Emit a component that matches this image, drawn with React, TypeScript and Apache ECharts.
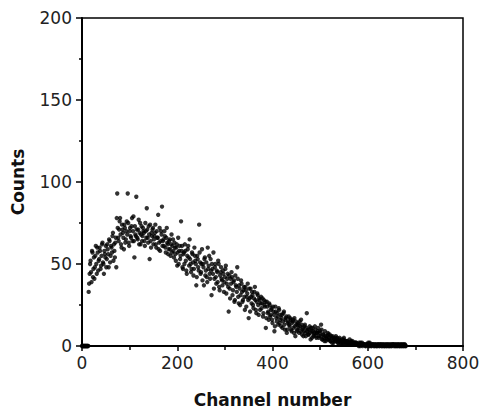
import React, { useEffect, useRef } from "react";
import * as echarts from "echarts";

// Channel numbers: even channels start at 0, odd channels at 1, step 2
const evenStart = 0;
const oddStart = 1;
const channelStep = 2;

// Counts per even channel, channels 0..680
const countsEven: number[] = [
  0, 0, 0, 0, 0, 0, 0,
  33, 44, 52, 39, 57, 47, 41, 55, 50, 60,
  46, 53, 58, 49, 62, 51, 44, 56, 61, 53,
  59, 48, 64, 55, 60, 67, 52, 58, 63, 48,
  93, 66, 71, 78, 62, 74, 69, 59, 72, 65,
  76, 93, 63, 70, 67, 73, 64, 79, 54, 68,
  91, 66, 71, 62, 75, 68, 64, 72, 69, 61,
  70, 84, 66, 73, 53, 64, 69, 71, 62, 67,
  74, 60, 66, 80, 63, 58, 70, 85, 64, 61,
  67, 57, 72, 62, 59, 65, 55, 68, 61, 58,
  63, 56, 60, 49, 66, 58, 53, 76, 61, 47,
  57, 62, 52, 44, 59, 54, 65, 50, 47, 56,
  43, 60, 52, 37, 55, 48, 74, 51, 45, 59,
  50, 37, 54, 46, 42, 60, 49, 44, 53, 31,
  47, 57, 41, 50, 38, 45, 52, 36, 43, 48,
  40, 46, 33, 42, 49, 38, 44, 21, 35, 41,
  45, 31, 39, 27, 43, 36, 48, 30, 37, 25,
  40, 33, 28, 36, 22, 34, 30, 38, 17, 29,
  35, 26, 31, 23, 33, 28, 20, 32, 25, 29,
  22, 30, 26, 18, 28, 24, 11, 27, 20, 16,
  25, 19, 23, 14, 21, 9, 24, 17, 20, 13,
  22, 16, 12, 19, 15, 21, 10, 17, 8, 14,
  18, 12, 16, 9, 15, 11, 17, 6, 13, 10,
  14, 8, 12, 16, 7, 11, 9, 13, 6, 20,
  10, 7, 12, 4, 9, 11, 6, 8, 10, 5,
  8, 11, 6, 9, 13, 4, 7, 5, 9, 3,
  6, 8, 4, 7, 3, 5, 6, 2, 4, 5,
  3, 5, 2, 4, 3, 1, 4, 2, 5, 3,
  2, 3, 1, 2, 4, 1, 2, 3, 1, 2,
  1, 2, 1, 1, 2, 0, 1, 2, 1, 1,
  1, 0, 1, 1, 0, 2, 1, 0, 1, 1,
  0, 1, 1, 0, 1, 0, 1, 1, 0, 1,
  1, 0, 1, 0, 1, 1, 0, 1, 0, 1,
  0, 1, 0, 1, 0, 1, 1, 0, 1, 0,
  1, 0, 1, 0,
];

// Counts per odd channel, channels 1..679
const countsOdd: number[] = [
  0, 0, 0, 0, 0, 0, 0,
  38, 50, 45, 58, 42, 54, 48, 61, 44, 57,
  52, 60, 47, 55, 63, 50, 58, 54, 48, 62,
  56, 65, 51, 61, 57, 69, 62, 54, 66, 78,
  72, 64, 76, 68, 60, 71, 66, 74, 63, 70,
  68, 75, 61, 72, 66, 78, 70, 64, 73, 67,
  71, 65, 77, 69, 62, 73, 67, 70, 64, 75,
  66, 71, 63, 68, 74, 60, 67, 72, 65, 69,
  62, 70, 66, 59, 72, 64, 68, 61, 65, 70,
  60, 66, 63, 56, 64, 59, 62, 57, 65, 54,
  60, 52, 62, 57, 50, 61, 55, 58, 48, 56,
  50, 58, 46, 55, 61, 49, 53, 45, 57, 51,
  47, 55, 50, 42, 53, 46, 57, 44, 50, 40,
  48, 53, 43, 51, 39, 47, 55, 41, 46, 50,
  44, 35, 48, 42, 46, 39, 50, 34, 45, 41,
  37, 44, 39, 47, 32, 41, 36, 43, 29, 38,
  42, 34, 40, 28, 37, 33, 41, 26, 35, 31,
  38, 27, 34, 30, 36, 24, 32, 28, 35, 21,
  30, 33, 25, 29, 36, 22, 27, 31, 19, 28,
  26, 23, 29, 20, 25, 27, 17, 24, 21, 26,
  18, 22, 16, 24, 19, 12, 21, 15, 18, 23,
  14, 19, 17, 11, 20, 13, 16, 18, 10, 15,
  13, 17, 10, 14, 16, 8, 12, 15, 9, 13,
  11, 15, 9, 13, 10, 6, 12, 8, 11, 9,
  7, 10, 8, 11, 5, 9, 7, 12, 6, 8,
  9, 5, 8, 6, 10, 4, 7, 3, 6, 5,
  4, 7, 5, 3, 6, 2, 5, 4, 3, 6,
  4, 2, 3, 5, 2, 3, 1, 4, 2, 3,
  1, 3, 2, 1, 2, 3, 1, 2, 1, 2,
  2, 1, 1, 0, 1, 2, 1, 0, 1, 1,
  0, 1, 1, 2, 0, 1, 0, 1, 1, 0,
  1, 0, 0, 1, 1, 0, 1, 0, 1, 0,
  0, 1, 0, 1, 0, 0, 1, 0, 1, 1,
  1, 0, 1, 0, 1, 0, 0, 1, 0, 1,
  0, 1, 0,
];

const xTitle = "Channel number";
const yTitle = "Counts";
const xRange = [0, 800];
const yRange = [0, 200];
const xInterval = 200;
const yInterval = 50;

export default function App() {
  const ref = useRef<HTMLDivElement>(null);
  useEffect(() => {
    if (!ref.current) return;
    const chart = echarts.init(ref.current, undefined, { renderer: "svg" });
    const data = [
      ...countsEven.map((c, i) => [evenStart + i * channelStep, c]),
      ...countsOdd.map((c, i) => [oddStart + i * channelStep, c]),
    ];
    const font = "'DejaVu Sans', Verdana, sans-serif";
    chart.setOption({
      animation: false,
      backgroundColor: "#fff",
      grid: {
        left: 82,
        right: 18,
        top: 18,
        bottom: 64,
        containLabel: false,
        outerBoundsMode: "none",
        show: true,
        borderColor: "#000",
        borderWidth: 1.5,
      },
      xAxis: {
        type: "value",
        min: xRange[0],
        max: xRange[1],
        interval: xInterval,
        name: xTitle,
        nameLocation: "middle",
        nameGap: 45,
        nameTextStyle: { fontSize: 17, fontWeight: "bold", color: "#111", fontFamily: font },
        axisLine: { show: true, lineStyle: { color: "#000", width: 2 } },
        axisTick: { show: true, length: 5, lineStyle: { color: "#000", width: 1.5 } },
        minorTick: { show: true, splitNumber: 2, length: 4, lineStyle: { color: "#000", width: 1.5 } },
        splitLine: { show: false },
        minorSplitLine: { show: false },
        axisLabel: { fontSize: 17, color: "#222", margin: 8, fontFamily: font },
      },
      yAxis: {
        type: "value",
        min: yRange[0],
        max: yRange[1],
        interval: yInterval,
        name: yTitle,
        nameLocation: "middle",
        nameGap: 56,
        nameTextStyle: { fontSize: 17, fontWeight: "bold", color: "#111", fontFamily: font },
        axisLine: { show: true, lineStyle: { color: "#000", width: 2 } },
        axisTick: { show: true, length: 6, lineStyle: { color: "#000", width: 1.5 } },
        minorTick: { show: true, splitNumber: 2, length: 3, lineStyle: { color: "#000", width: 1.5 } },
        splitLine: { show: false },
        minorSplitLine: { show: false },
        axisLabel: { fontSize: 17, color: "#222", margin: 10, fontFamily: font },
      },
      series: [
        {
          type: "scatter",
          data,
          symbol: "circle",
          symbolSize: 4.4,
          itemStyle: { color: "#000" },
        },
      ],
    });
    return () => chart.dispose();
  }, []);
  return (
    <div
      ref={ref}
      style={{ position: "fixed", left: 0, top: 0, width: 481, height: 410, background: "#fff" }}
    />
  );
}
